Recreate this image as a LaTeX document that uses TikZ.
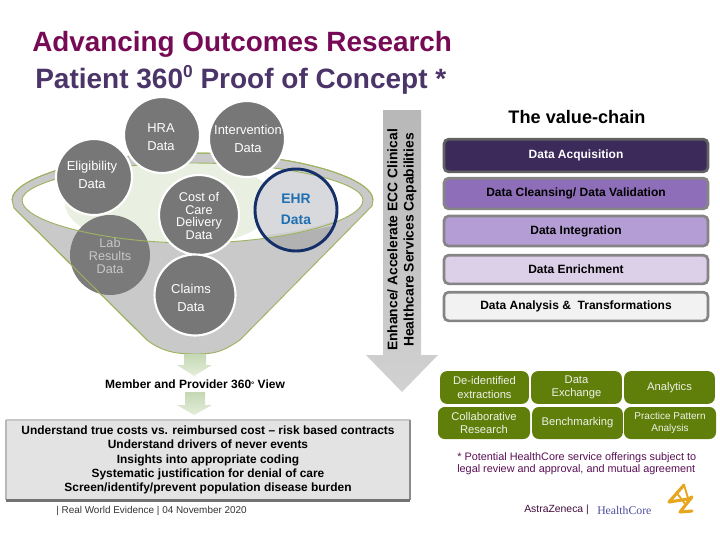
\documentclass[tikz,border=0pt]{standalone}
\usepackage{fontspec}
\setmainfont{Liberation Sans}
\newfontfamily\serifhc{Liberation Serif}
\usetikzlibrary{shapes.geometric}
\definecolor{rimgreen}{HTML}{9DB35F}
\definecolor{funnelgray}{HTML}{C9C9C9}
\definecolor{palegreen}{HTML}{E9F0E2}
\definecolor{circgray}{HTML}{777777}
\definecolor{ehrfill}{HTML}{D8D9DC}
\definecolor{ehrring}{HTML}{152F68}
\definecolor{ehrtext}{HTML}{1F6FB2}
\definecolor{titleA}{HTML}{770A55}
\definecolor{titleB}{HTML}{4A3468}
\definecolor{boxgreen}{HTML}{5F7F0A}
\definecolor{notecol}{HTML}{5A0F55}
\definecolor{arrowtop}{HTML}{C4D8B4}
\definecolor{arrowbot}{HTML}{E4EDDA}
\definecolor{logogold}{HTML}{E8A51E}
\newcommand{\px}[2]{\fontsize{#1}{#2}\selectfont}
\newcommand{\outertop}{(12,200) .. controls (12,178) and (90,153) .. (193,153) .. controls (296,153) and (373,178) .. (373,200)}
\newcommand{\innerpath}{(22,200) .. controls (22,182) and (100,163) .. (193,163) .. controls (285,163) and (363,182) .. (363,200) .. controls (363,222) and (280,243) .. (193,243) .. controls (105,243) and (22,222) .. (22,200) -- cycle}
\newcommand{\funnelpath}{(12,200) .. controls (12,178) and (90,153) .. (193,153) .. controls (296,153) and (373,178) .. (373,200) -- (372,206) -- (240,340) .. controls (222,352) and (215,354) .. (195,354) .. controls (172,354) and (160,350) .. (147,340) -- (14,208) -- cycle}
\tikzset{
  x=0.75pt,y=-0.75pt,
  circ/.style={circle,fill=circgray,inner sep=0pt,minimum size=#1*0.75pt},
  whiteb/.style={draw=white,line width=1.6pt},
  ctext/.style={text=white,align=center,inner sep=0pt,font=\px{9.7}{13.2}},
  ctight/.style={text=white,align=center,inner sep=0pt,font=\px{9.5}{9.6}},
  vbox/.style={rectangle,rounded corners=3.5pt,draw=#1,line width=2pt,minimum width=198pt,inner sep=0pt,align=center,font=\bfseries\px{9}{10}},
  gbox/.style={rectangle,rounded corners=5pt,fill=boxgreen,text=white!90!boxgreen,inner sep=0pt,align=center,font=\px{8.4}{9.8}},
  shaftarrow/.style={top color=arrowtop,bottom color=arrowbot,draw=none},
}
\begin{document}
\begin{tikzpicture}
\useasboundingbox (0,0) rectangle (720,540);
% title
\node[anchor=west,inner sep=0pt,text=titleA,font=\bfseries\px{20.9}{24}] (t1) at (32,44) {Advancing Outcomes Research};
\node[anchor=west,inner sep=0pt,text=titleB,font=\bfseries\px{21}{24}] (t2) at (35,80) {Patient 360\raisebox{8.5pt}{\px{13}{13}0} Proof of Concept *};
% funnel
\fill[funnelgray,draw=rimgreen,line width=0.7pt] \funnelpath;
\fill[white] \innerpath;
\begin{scope}
\clip \innerpath;
\fill[palegreen] (170,203) ellipse [x radius=105,y radius=45];
\end{scope}
\node[circ=80,opacity=0.96] (lab) at (110,255) {};
\node[circ=84,fill=ehrfill] (ehr) at (296,210) {};
\begin{scope}
\clip (296,210) circle [radius=42];
\fill[black!30] (240,232) -- (340,220) -- (340,260) -- (240,260) -- cycle;
\fill[ehrfill!80!black!60] (250,240) .. controls (290,236) and (320,228) .. (350,222) -- (350,212) -- (250,212) -- cycle;
\fill[ehrfill] (250,236) .. controls (290,234) and (320,226) .. (340,219) -- (340,170) -- (250,170) -- cycle;
\end{scope}
\draw[rimgreen,line width=0.7pt] \innerpath;
\draw[rimgreen,line width=0.7pt] \outertop;
\draw[rimgreen,line width=0.7pt] (14,208) -- (147,340);
\node[circle,draw=ehrring,line width=2.2pt,minimum size=82*0.75pt,inner sep=0pt] (ehrring) at (ehr) {};
\node[circ=76,whiteb] (hra) at (162,135) {};
\node[circ=76,whiteb] (intv) at (247,139) {};
\node[circ=76,whiteb] (elig) at (94,177) {};
\node[circ=80,whiteb] (cost) at (199,215) {};
\node[circ=81,whiteb] (claims) at (195,295) {};
% circle labels
\node[ctext] (hraT) at (161,137) {HRA\\Data};
\node[ctext] (intvT) at (248,139) {Intervention\\Data};
\node[ctext] (eligT) at (92,175) {Eligibility\\Data};
\node[ctight] (costT) at (199,216) {Cost of\\Care\\Delivery\\Data};
\node[ctight,text=black!22] (labT) at (110,256) {Lab\\Results\\Data};
\node[ctext] (claimsT) at (191,298) {Claims\\Data};
\node[ctext,text=ehrtext,font=\bfseries\px{10.4}{15.7}] (ehrT) at (296,209) {EHR\\Data};
% pale arrows
\path[shaftarrow] (184,354) -- (206,354) -- (206,365) -- (212,365) -- (194,376) -- (177,365) -- (184,365) -- cycle;
\path[shaftarrow] (185,392) -- (205,392) -- (205,405) -- (212,405) -- (194,415) -- (177,405) -- (185,405) -- cycle;
\node[inner sep=0pt,font=\bfseries\px{9}{10}] (member) at (195,384) {Member and Provider 360\raisebox{0.5pt}{\px{6}{6}°} View};
% understand box
\node[rectangle,fill=black!11,minimum width=303pt,minimum height=60pt,inner sep=0pt,align=center,font=\bfseries\px{8.95}{10.8}] (under) at (208,460)
 {Understand true costs vs. reimbursed cost – risk based contracts\\Understand drivers of never events\\Insights into appropriate coding\\Systematic justification for denial of care\\Screen/identify/prevent population disease burden};
\draw[black!22,line width=1.5pt] (under.north west) -- (under.north east);
\draw[black!28,line width=1.5pt] (under.north west) -- (under.south west);
\draw[black!45,line width=1.5pt] (under.north east) -- (under.south east);
\draw[black!55,line width=2pt] (under.south west) -- (under.south east);
\node[anchor=west,inner sep=0pt,text=black!80,font=\px{7.45}{8}] (foot) at (56,511) {| Real World Evidence | 04 November 2020};
% big arrow
\path[top color=black!28,bottom color=black!18] (383,110) -- (421,110) -- (421,355) -- (438,355) -- (402,392) -- (366,355) -- (383,355) -- cycle;
\node[rotate=90,inner sep=0pt,align=center,font=\bfseries\px{10.4}{12.2}] (enh) at (402,240) {Enhance/ Accelerate ECC Clinical\\Healthcare Services Capabilities};
% value chain
\node[inner sep=0pt,font=\bfseries\px{13.6}{14}] (vc) at (577,117) {The value-chain};
\node[vbox=black!62,fill={rgb,255:red,59;green,42;blue,90},text=white,minimum height=24.5pt] (v1) at (576,155.5) {Data Acquisition};
\node[vbox=black!48,fill={rgb,255:red,142;green,110;blue,184},minimum height=23pt] (v2) at (576,193.5) {Data Cleansing/ Data Validation};
\node[vbox=black!48,fill={rgb,255:red,179;green,157;blue,212},minimum height=22.5pt] (v3) at (576,231) {Data Integration};
\node[vbox=black!48,fill={rgb,255:red,220;green,207;blue,232},minimum height=21.5pt] (v4) at (576,269.5) {Data Enrichment};
\node[vbox=black!48,fill=black!5,minimum height=21.5pt] (v5) at (576,306.5) {Data Analysis \&\ \ Transformations};
% green boxes
\node[gbox,minimum width=66.5pt,minimum height=24.5pt] (g1) at (484.5,387.5) {De-identified\\extractions};
\node[gbox,minimum width=68pt,minimum height=24.5pt] (g2) at (576.5,387.5) {Data\\Exchange};
\node[gbox,minimum width=68pt,minimum height=24.5pt] (g3) at (669.5,387.5) {Analytics};
\node[gbox,minimum width=69pt,minimum height=24pt] (g4) at (484,423) {Collaborative\\Research};
\node[gbox,minimum width=68pt,minimum height=24pt] (g5) at (577.5,423) {Benchmarking};
\node[gbox,minimum width=69pt,minimum height=24pt,font=\px{7.5}{9.5}] (g6) at (670,423) {Practice Pattern\\Analysis};
% note
\node[anchor=north west,inner sep=0pt,align=left,text=notecol,font=\px{8.15}{9.6}] (note) at (457,452) {* Potential HealthCore service offerings subject to\\legal review and approval, and mutual agreement};
\node[anchor=west,inner sep=0pt,text=notecol!70!black,font=\px{7.8}{9}] (az) at (524,510) {AstraZeneca |};
\node[anchor=west,inner sep=0pt,text=blue!45!black!70,font=\serifhc\px{8.8}{9}] (hc) at (597,510) {HealthCore};
% logo
\draw[logogold,line width=2.3pt,line join=round,line cap=round] (684,485) -- (669,502) -- (688,499) -- (692,497) -- (680,512) -- (692,511);
\draw[logogold,line width=1.4pt] (684,485) -- (688,498) (676,492) -- (686,505);
\end{tikzpicture}
\end{document}
